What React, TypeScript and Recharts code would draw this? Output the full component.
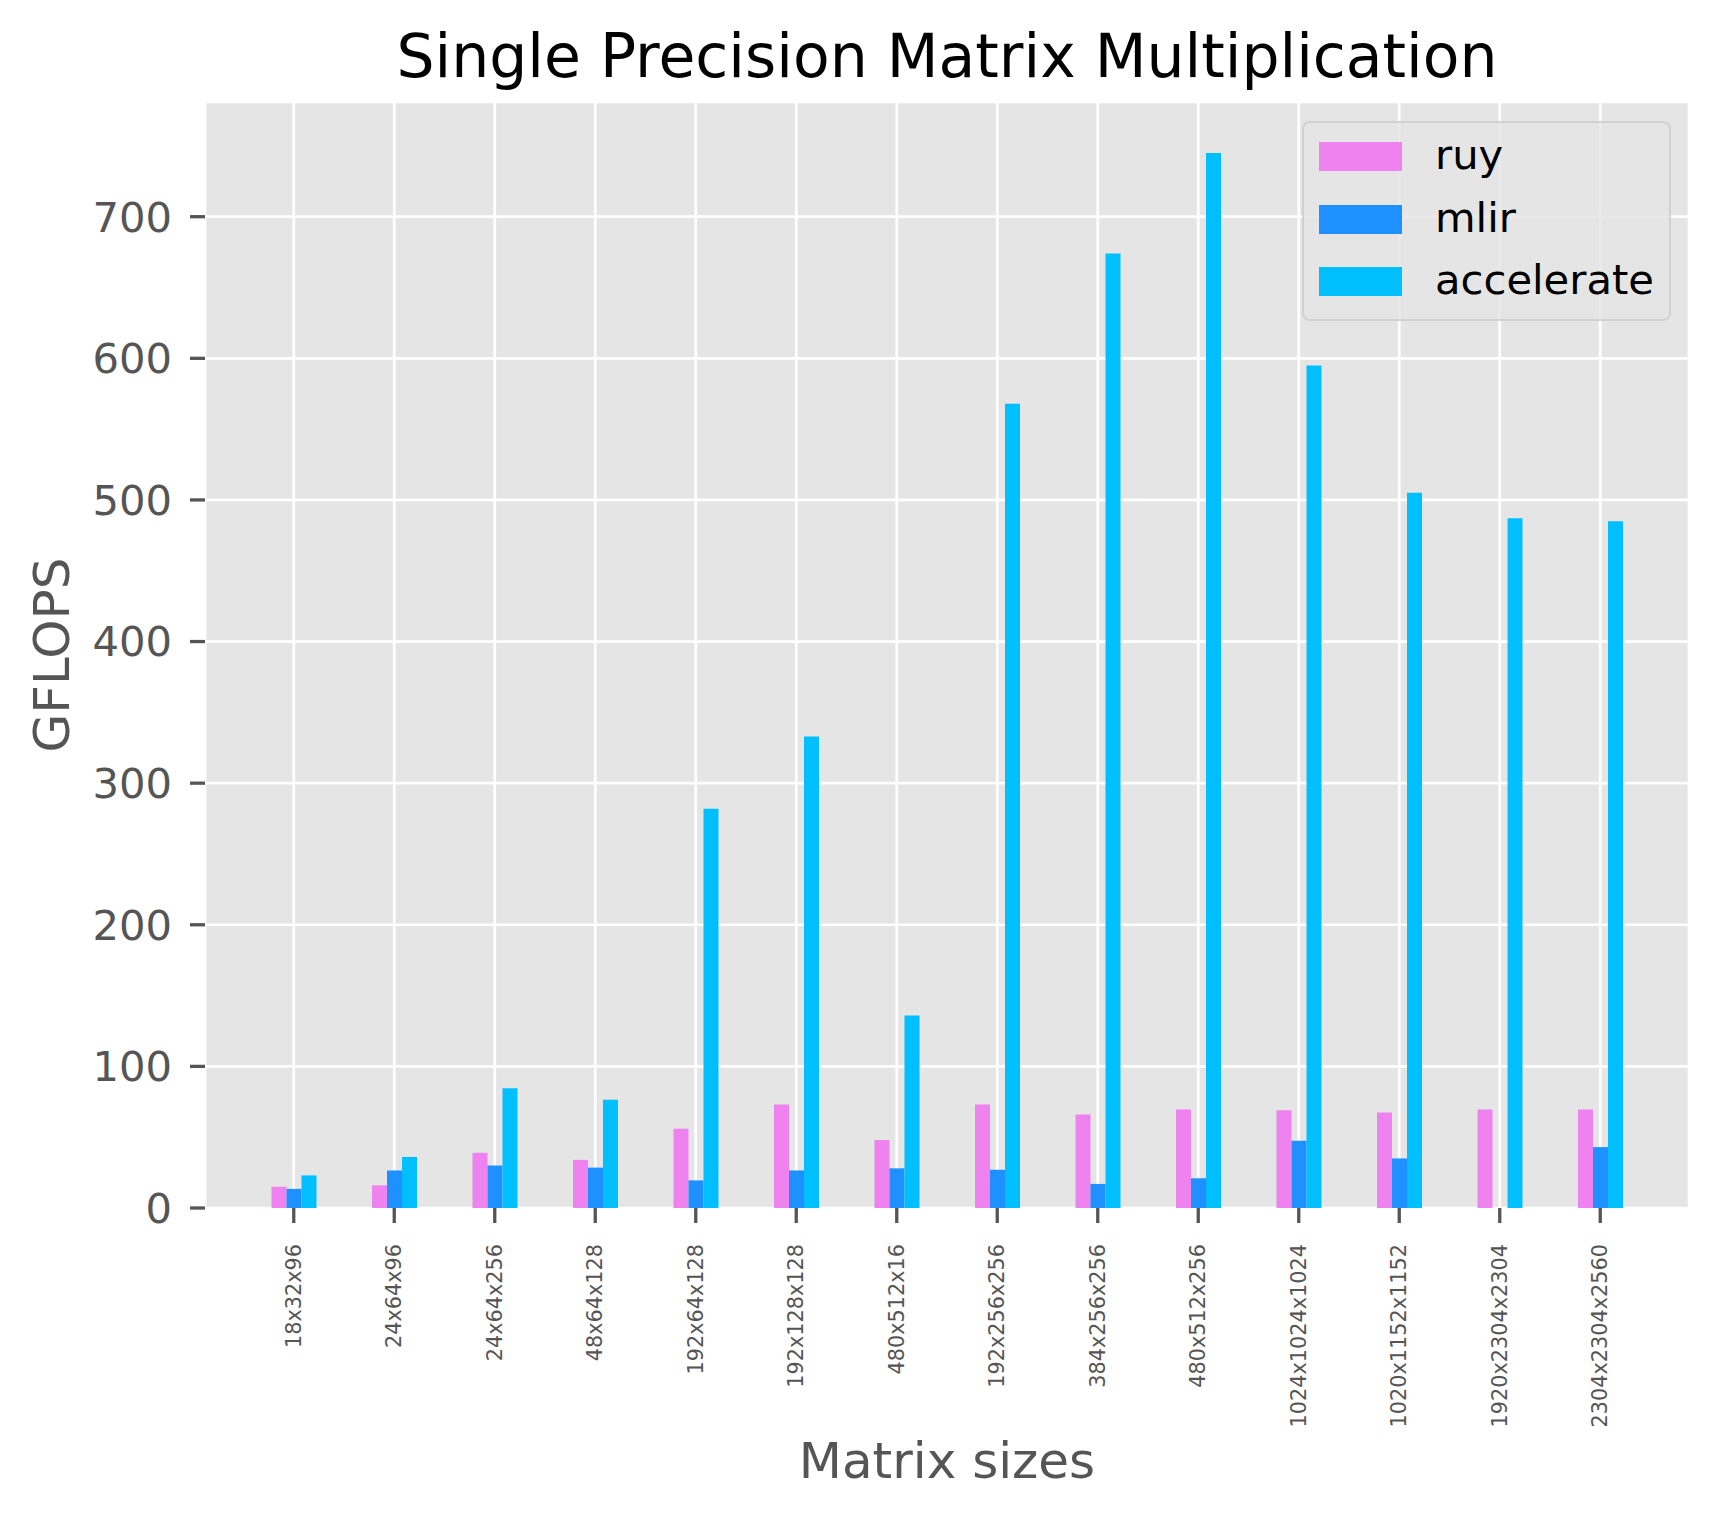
import React from 'react';
import { BarChart, Bar, XAxis, YAxis, CartesianGrid, Legend } from 'recharts';

// matrix sizes (MxNxK) and measured GFLOPS per backend
const sizes = [
  '18x32x96', '24x64x96', '24x64x256', '48x64x128', '192x64x128', '192x128x128', '480x512x16',
  '192x256x256', '384x256x256', '480x512x256', '1024x1024x1024', '1020x1152x1152', '1920x2304x2304', '2304x2304x2560'
];
const ruy = [15, 16, 39, 34, 56, 73, 48, 73, 66, 69.5, 69, 67.5, 69.5, 69.5];
const mlir = [13.5, 26.5, 30, 28.5, 19.5, 26.5, 28, 27, 17, 21, 47.5, 35, null, 43];
const accelerate = [23, 36, 84.5, 76.5, 282, 333, 136, 568, 674, 745, 595, 505, 487, 485];
const yTicks = [0, 100, 200, 300, 400, 500, 600, 700];

const series = [
  { key: 'ruy', color: '#EE82EE' },
  { key: 'mlir', color: '#1E90FF' },
  { key: 'accelerate', color: '#00BFFF' }
];

const data = sizes.map((size, i) => ({
  size,
  ruy: ruy[i],
  mlir: mlir[i],
  accelerate: accelerate[i]
}));

const FONT = '"DejaVu Sans", sans-serif';
const GREY = '#555555';

const SizeTick = (props: any) => {
  const { x, y, payload } = props;
  const top = y + 19;
  return (
    <text
      x={x}
      y={top}
      transform={`rotate(-90, ${x}, ${top})`}
      textAnchor="end"
      dominantBaseline="central"
      fontSize={20.8}
      fontFamily={FONT}
      fill={GREY}
    >
      {payload.value}
    </text>
  );
};

const renderLegend = () => (
  <div
    style={{
      position: 'relative',
      width: 369,
      height: 200,
      boxSizing: 'border-box',
      background: 'rgba(229,229,229,0.8)',
      border: '2px solid rgba(204,204,204,0.8)',
      borderRadius: 8,
      fontFamily: FONT,
      fontSize: 41.7
    }}
  >
    {series.map((s, i) => (
      <div key={s.key} style={{ position: 'absolute', left: 15, top: 19 + i * 62.5, height: 29, display: 'flex', alignItems: 'center' }}>
        <div style={{ width: 83, height: 29, background: s.color }} />
        <span style={{ marginLeft: 33, marginTop: -3, color: '#000', lineHeight: 1, whiteSpace: 'nowrap' }}>{s.key}</span>
      </div>
    ))}
  </div>
);

export default function App() {
  return (
    <div style={{ position: 'absolute', left: 0, top: 0, width: 1721, height: 1517, background: '#fff' }}>
      <div
        style={{
          position: 'absolute',
          left: 205,
          width: 1484,
          top: 26,
          textAlign: 'center',
          fontFamily: FONT,
          fontSize: 60,
          lineHeight: '60px',
          color: '#000'
        }}
      >
        Single Precision Matrix Multiplication
      </div>
      <BarChart
        width={1721}
        height={1517}
        data={data}
        margin={{ top: 102, right: 32, bottom: 0, left: 0 }}
        barSize={15}
        barGap={0}
      >
        <CartesianGrid fill="#E5E5E5" stroke="#ffffff" strokeWidth={2.7} />
        <XAxis
          dataKey="size"
          height={309}
          axisLine={false}
          tickLine={{ stroke: GREY, strokeWidth: 3.3 }}
          tickSize={15}
          padding={{ left: 38.5, right: 38.5 }}
          interval={0}
          tick={<SizeTick />}
          label={{
            content: (p: any) => {
              const vb = p.viewBox;
              return (
                <text x={vb.x + vb.width / 2} y={1478} textAnchor="middle" fontSize={50} fontFamily={FONT} fill={GREY}>
                  Matrix sizes
                </text>
              );
            }
          }}
        />
        <YAxis
          width={205}
          domain={[0, 781]}
          ticks={yTicks}
          axisLine={false}
          tickLine={{ stroke: GREY, strokeWidth: 3.3 }}
          tickSize={15}
          tickMargin={18}
          tick={{ fill: GREY, fontSize: 41.7, fontFamily: FONT }}
          label={{
            content: (p: any) => {
              const vb = p.viewBox;
              const cy = vb.y + vb.height / 2;
              return (
                <text x={69} y={cy} transform={`rotate(-90, 69, ${cy})`} textAnchor="middle" fontSize={50} fontFamily={FONT} fill={GREY}>
                  GFLOPS
                </text>
              );
            }
          }}
        />
        <Legend
          layout="vertical"
          align="center"
          verticalAlign="middle"
          content={renderLegend}
          wrapperStyle={{ left: 1302, top: 121, width: 369, height: 200 }}
        />
        {series.map(s => (
          <Bar key={s.key} dataKey={s.key} fill={s.color} isAnimationActive={false} />
        ))}
      </BarChart>
    </div>
  );
}
